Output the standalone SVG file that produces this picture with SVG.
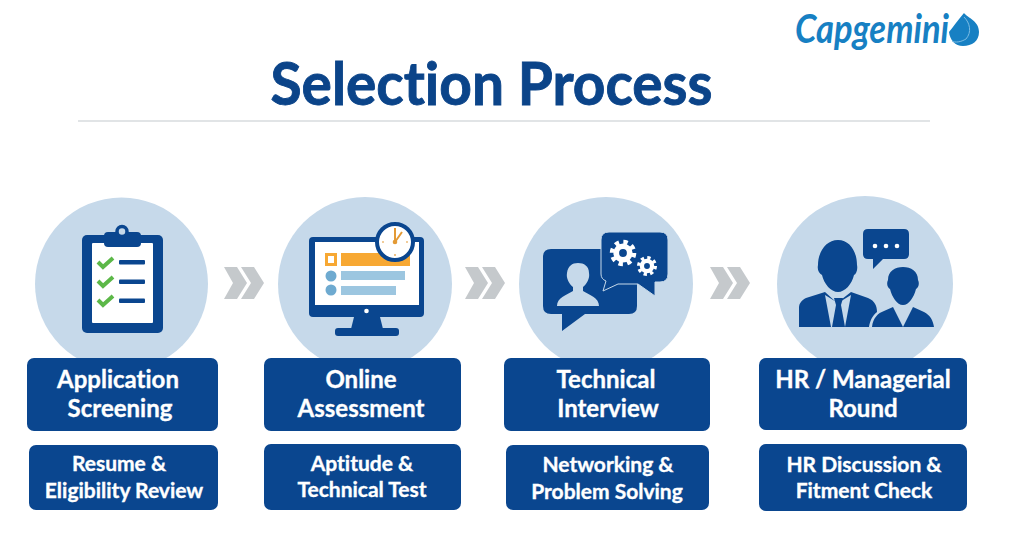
<svg xmlns="http://www.w3.org/2000/svg" width="1024" height="551" viewBox="0 0 1024 551">
<defs>
<style>
text{font-variant-ligatures:none}
.t{font-family:"Lato","Open Sans",sans-serif;font-weight:700;fill:#fff;stroke:#fff;stroke-width:.35px;text-anchor:middle}
.h{font-size:24px}.s{font-size:21px}
.bar{fill:#0a468f}.navy{fill:#0a468f}.disc{fill:#c6d9ea}.lt{fill:#c6d9ea}
.chk{fill:none;stroke:#5cb848;stroke-width:4}
.chev{fill:#c5c9cc}
</style>
<g id="chevs"><path class="chev" d="M0 0H13L23 16L13 32H0L9 16Z"/><path class="chev" d="M17 0H30L40 16L30 32H17L27 16Z"/></g>
<g id="gear"><circle r="5.2" fill="none" stroke="#fff" stroke-width="4.4"/><circle r="8.5" fill="none" stroke="#fff" stroke-width="3.4" stroke-dasharray="3.34 3.34"/></g>
</defs>
<rect width="1024" height="551" fill="#fff"/>

<g id="title">
<text x="491.500" y="105" font-family="Lato,Open Sans,sans-serif" font-weight="700" font-size="59" fill="#0b4489" stroke="#0b4489" stroke-width=".9" text-anchor="middle" textLength="442" lengthAdjust="spacingAndGlyphs">Selection Process</text>
<rect x="78" y="120.500" width="852" height="1" fill="#c4cace"/>
</g>

<g id="logo">
<text x="795" y="43" font-family="Lato,sans-serif" font-style="italic" font-weight="700" font-size="40" fill="#1780c3" textLength="154" lengthAdjust="spacingAndGlyphs">Capgemini</text>
<path d="M964 13C968 18 979 21 979 32C979 41 972 46 963 46C955 46 950 40 949 32C953 27 958 20 964 13Z" fill="#1780c3"/>
<path d="M964 17C970 23 972 32 966 39C961 42 955 43 952 41" fill="none" stroke="#7cbce3" stroke-width="1"/>
</g>

<g id="connectors">
<use href="#chevs" x="224" y="267"/>
<use href="#chevs" x="465" y="267"/>
<use href="#chevs" x="710" y="267"/>
</g>

<g id="step1">
<circle class="disc" cx="121.500" cy="284" r="86.500"/>
<rect class="navy" x="82" y="235" width="81" height="98" rx="5"/>
<rect x="92" y="243" width="61" height="80" rx="1" fill="#fff"/>
<rect class="navy" x="104" y="232" width="37" height="15" rx="4"/>
<circle cx="122" cy="231.500" r="5" fill="#c6d9ea" stroke="#0a468f" stroke-width="3.500"/>
<path class="chk" d="M98 262L103 267L113 258"/>
<path class="chk" d="M98 281L103 286L113 277"/>
<path class="chk" d="M98 300L103 305L113 296"/>
<rect class="navy" x="119" y="260" width="26" height="4.500" rx="1"/>
<rect class="navy" x="119" y="279.500" width="26" height="4.500" rx="1"/>
<rect class="navy" x="119" y="298.500" width="26" height="4.500" rx="1"/>
<rect class="bar" x="27" y="358" width="191" height="73" rx="7"/>
<text class="t h"><tspan x="118" y="388">Application</tspan><tspan x="120" y="417">Screening</tspan></text>
<rect class="bar" x="29" y="445" width="189" height="65" rx="7"/>
<text class="t s"><tspan x="119" y="471">Resume &amp;</tspan><tspan x="124" y="498">Eligibility Review</tspan></text>
</g>

<g id="step2">
<circle class="disc" cx="365" cy="284" r="87"/>
<rect class="navy" x="309" y="237" width="115" height="80" rx="4"/>
<rect x="315" y="242" width="104" height="63" fill="#fff"/>
<circle cx="366.500" cy="311" r="2.300" fill="#fff"/>
<path class="navy" d="M354 317H380L383 329H351Z"/>
<rect class="navy" x="335" y="328" width="64" height="8" rx="3"/>
<rect x="341" y="253" width="69" height="13" fill="#f7a833"/>
<rect x="325" y="253" width="12" height="13" fill="#f7a833"/>
<rect x="328" y="256" width="6" height="7" fill="#fff"/>
<rect x="341" y="271" width="64" height="9" fill="#9cc6e0"/>
<rect x="341" y="286" width="55" height="9" fill="#9cc6e0"/>
<circle cx="331" cy="276" r="5.500" fill="#6eaad0"/>
<circle cx="331" cy="290" r="5.500" fill="#6eaad0"/>
<circle cx="395" cy="242" r="18" fill="#fff" stroke="#0a468f" stroke-width="4"/>
<path d="M395 242V228M395 242L402 232" fill="none" stroke="#e39a35" stroke-width="2"/>
<circle cx="395" cy="242" r="2.300" fill="#e39a35"/>
<path d="M395 229v2M395 254v2M382 242h2M406 242h2" stroke="#e39a35" stroke-width="1.200"/>
<rect class="bar" x="264" y="358" width="197" height="73" rx="7"/>
<text class="t h"><tspan x="361" y="388">Online</tspan><tspan x="361" y="417">Assessment</tspan></text>
<rect class="bar" x="264" y="444" width="197" height="66" rx="7"/>
<text class="t s"><tspan x="362" y="471">Aptitude &amp;</tspan><tspan x="362" y="497">Technical Test</tspan></text>
</g>

<g id="step3">
<circle class="disc" cx="606" cy="284" r="87"/>
<path class="navy" d="M551 249H629Q637 249 637 257V306Q637 314 629 314H585L562 331V314H551Q543 314 543 306V257Q543 249 551 249Z"/>
<path class="lt" d="M557 306C557 298 566 295 573 291V287C569 284 566 278 567 273C568 266 572 263 578 263C584 263 589 266 589 273C590 278 587 284 583 287V291C590 295 599 298 599 306Z"/>
<path d="M609 232H660Q668 232 668 240V274Q668 282 660 282H655V296L638 284H618L603 291L606 281Q601 279 601 274V240Q601 232 609 232Z" fill="#0a468f" stroke="#c6d9ea" stroke-width="1"/>
<g transform="translate(623 253) scale(1.3)"><use href="#gear"/></g>
<g transform="translate(647 266) scale(.98)"><use href="#gear"/></g>
<rect class="bar" x="504" y="358" width="206" height="73" rx="7"/>
<text class="t h"><tspan x="606" y="388">Technical</tspan><tspan x="608" y="417">Interview</tspan></text>
<rect class="bar" x="506" y="445" width="203" height="65" rx="7"/>
<text class="t s"><tspan x="608" y="472">Networking &amp;</tspan><tspan x="607" y="499">Problem Solving</tspan></text>
</g>

<g id="step4">
<circle class="disc" cx="865" cy="284" r="88"/>
<path class="navy" d="M799 327V308C799 303 802 300 806 298L825 292L837 303L851 292L868 298C875 301 877 306 877 312C872 316 870 321 869 327Z"/>
<path class="lt" d="M825 295L838 303L851 295L845 327H831Z"/>
<path class="navy" d="M834 298H843L841 305L845 327H832L836 305Z"/>
<path class="navy" d="M818 265C818 252 826 240 838 240C850 240 857 252 857 265C858 270 856 274 854 275C852 284 845 292 838 292C831 292 824 284 822 275C819 273 817 270 818 265Z"/>
<path class="navy" d="M872 327C873 318 878 313 884 311L893 307L903 327L913 307L924 312C930 315 933 320 934 327Z"/>
<path class="navy" d="M888 280C888 271 895 267 903 267C911 267 918 271 918 280C920 284 918 288 916 289C914 297 909 305 903 305C897 305 892 297 890 289C888 288 886 284 888 280Z"/>
<path class="navy" d="M868 229H904Q909 229 909 234V254Q909 259 904 259H883L873 269L873 259H868Q863 259 863 254V234Q863 229 868 229Z"/>
<circle cx="875" cy="246" r="2.300" fill="#fff"/><circle cx="886" cy="246" r="2.300" fill="#fff"/><circle cx="897" cy="246" r="2.300" fill="#fff"/>
<rect class="bar" x="759" y="358" width="208" height="72" rx="7"/>
<text class="t h"><tspan x="863" y="388">HR / Managerial</tspan><tspan x="863" y="417">Round</tspan></text>
<rect class="bar" x="759" y="444" width="208" height="67" rx="7"/>
<text class="t s"><tspan x="864" y="472">HR Discussion &amp;</tspan><tspan x="864" y="498">Fitment Check</tspan></text>
</g>
</svg>
